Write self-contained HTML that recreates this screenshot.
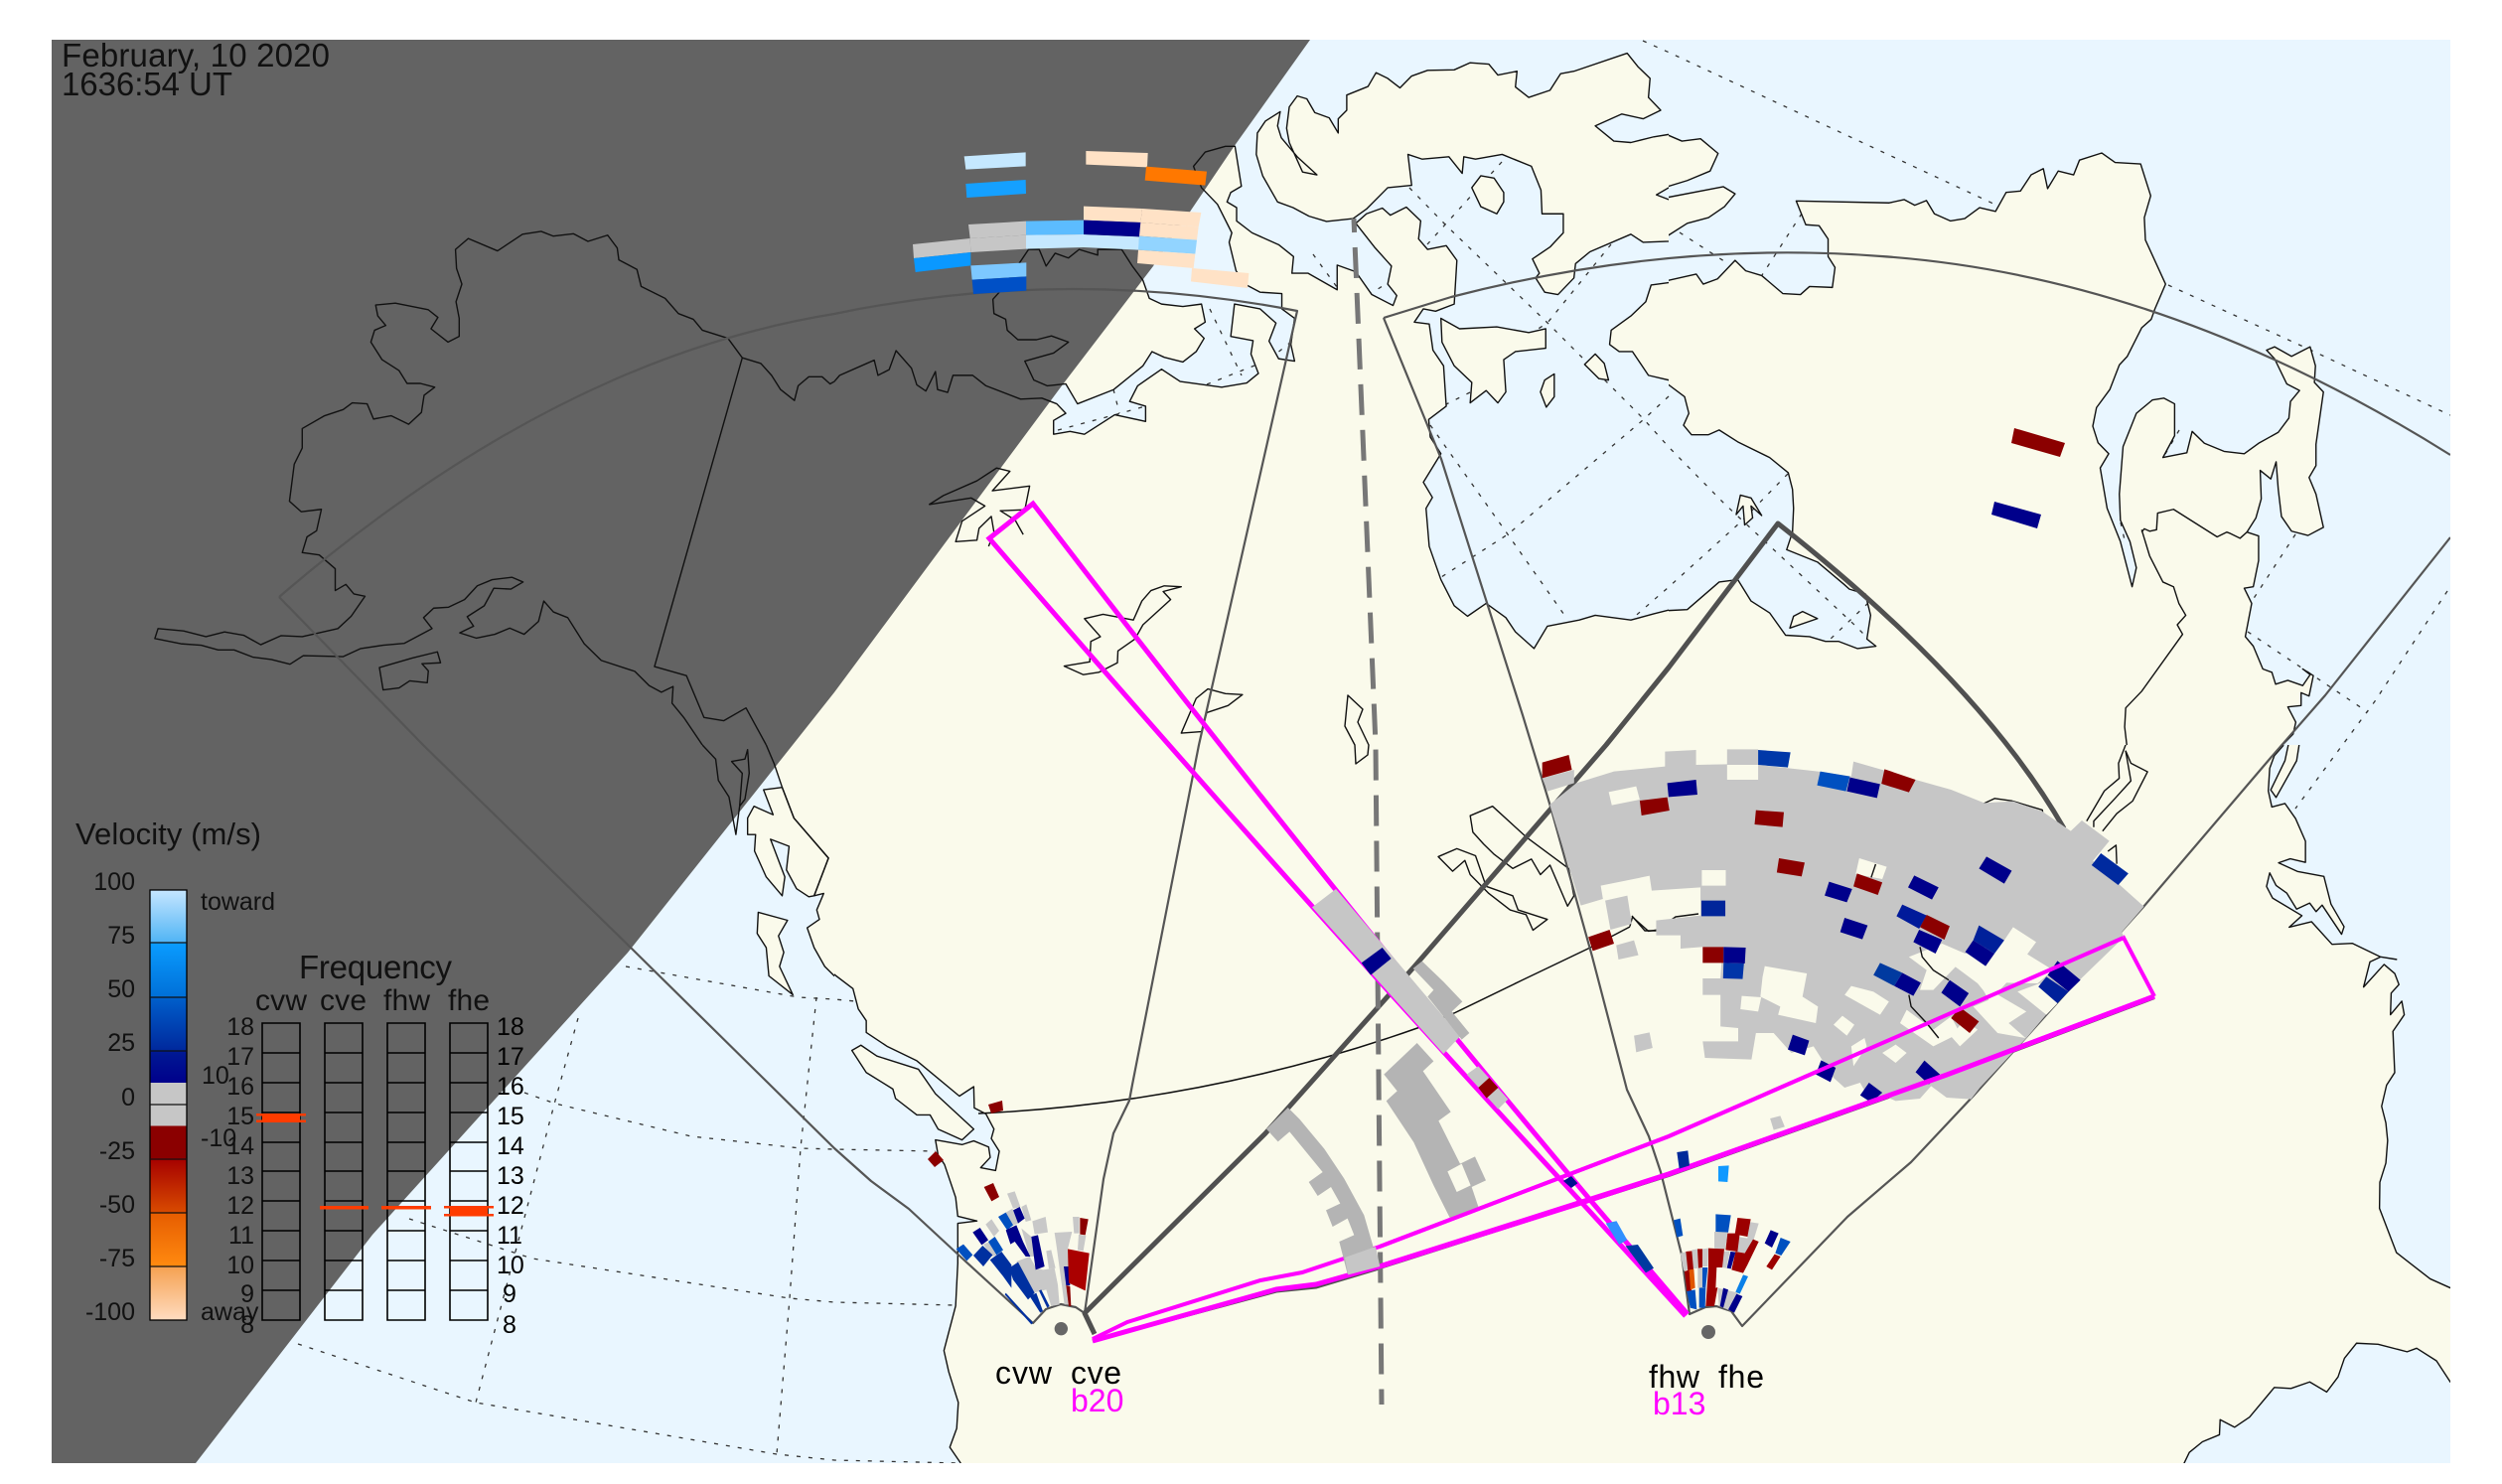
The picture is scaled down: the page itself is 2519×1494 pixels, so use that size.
<!DOCTYPE html>
<html><head><meta charset="utf-8"><title>SuperDARN map</title>
<style>
html,body{margin:0;padding:0;background:#fff}
svg{display:block}
path{vector-effect:non-scaling-stroke}
text{font-family:"Liberation Sans",sans-serif;fill:#000}
.k{fill:#111}
.d polyline{fill:none;stroke:#333;stroke-width:1.3;stroke-dasharray:4 8}
.s polyline,.s path{fill:none;stroke:#555;stroke-width:2.2;stroke-linejoin:round}
</style></head><body>
<svg xmlns="http://www.w3.org/2000/svg" width="2519" height="1494" viewBox="0 0 2519 1494">
<defs>
<g id="c">
<svg x="0" y="0" width="840" height="750" viewBox="0 0 1568 1568" preserveAspectRatio="none">
<path d="M1620 797 1568 803 1560 808 1545 793 1520 793 1500 812 1493 843 1467 820 1450 790 1430 765 1395 753 1368 712 1320 695 1303 672 1275 660 1250 628 1205 603 1197 567 1163 547 1160 522 1142 495 1105 508 1078 492 1040 497 1017 487 982 493 935 528 880 502 856 525 858 565 868 598 857 635 863 670 863 708 842 720 810 692 823 668 805 652 743 638 706 642 710 665 725 685 704 695 697 720 718 757 750 780 765 807 790 807 817 815 797 832 792 868 768 893 735 875 702 882 690 850 662 848 645 862 610 875 568 902 568 943 553 977 544 1055 566 1077 604 1072 595 1117 577 1130 568 1163 600 1168 630 1197 630 1243 650 1230 665 1250 686 1255 660 1297 635 1323 568 1340 528 1338 490 1357 458 1337 422 1330 387 1340 345 1328 297 1323 291 1344 340 1355 378 1358 410 1368 440 1368 475 1383 510 1388 545 1398 570 1380 645 1382 678 1365 720 1358 760 1354 812 1323 796 1300 815 1280 843 1278 873 1262 897 1233 925 1220 962 1215 983 1225 960 1240 928 1238 910 1275 878 1298 890 1318 864 1332 895 1343 930 1335 958 1322 985 1335 1012 1308 1022 1265 1040 1288 1067 1300 1098 1355 1130 1390 1193 1413 1220 1443 1243 1457 1265 1445 1263 1480 1285 1510 1320 1568 1330 1620 1620 1620Z"/>
<path d="M713 1405 775 1385 822 1372 828 1395 793 1397 805 1412 803 1437 770 1433 750 1448 720 1452Z"/>
<path fill="none" d="M1395 753 1230 1403 1290 1422 1323 1510 1360 1517 1402 1490 1440 1568"/>
</svg>
<svg x="840" y="0" width="840" height="750" viewBox="0 0 1568 1568" preserveAspectRatio="none">
<path d="M-50 797 0 803 10 790 75 758 82 790 103 778 116 738 145 775 155 810 172 823 190 782 194 820 213 826 223 790 260 790 285 812 350 840 390 838 418 850 435 870 412 885 412 914 443 908 470 914 527 873 585 887 585 855 555 845 570 812 615 777 650 803 728 815 775 806 797 786 783 745 787 717 745 708 752 640 800 650 830 680 817 718 835 755 865 760 858 725 865 670 841 650 841 618 800 615 775 600 755 570 742 510 747 490 720 430 690 395 675 350 697 320 735 308 753 308 765 392 745 405 738 425 756 437 756 465 785 490 835 515 863 540 860 575 890 575 945 610 945 558 980 572 1010 620 1050 643 1057 622 1040 598 1047 560 1015 520 980 470 1000 450 1030 438 1045 453 1075 436 1102 465 1098 503 1115 525 1150 517 1170 548 1165 640 1130 655 1107 650 1090 678 1118 682 1125 737 1145 770 1150 855 1117 883 1120 920 1140 955 1107 1015 1124 1047 1112 1070 1118 1150 1140 1220 1165 1275 1190 1297 1225 1270 1262 1300 1280 1330 1315 1365 1340 1318 1400 1305 1430 1295 1497 1305 1540 1292 1568 1284 1620 1280 1620 1620 -50 1620Z"/>
<path d="M540 525 560 560 580 590 592 628 615 640 655 645 690 640 697 678 677 692 695 712 680 740 655 762 620 752 597 740 580 770 525 820 457 850 435 808 400 812 375 800 358 760 412 743 440 720 408 707 380 715 345 715 325 695 322 672 300 660 298 630 310 615 350 550 365 525 385 525 398 560 415 533 440 543 460 525 495 537 495 525Z"/>
<path d="M870 202 888 208 903 237 930 248 947 280 947 250 963 232 963 200 1003 182 1018 153 1040 165 1063 185 1085 160 1115 148 1165 147 1195 132 1230 135 1247 158 1283 150 1280 183 1305 205 1345 190 1365 155 1390 150 1490 112 1510 140 1533 165 1530 205 1553 232 1520 250 1480 240 1430 265 1465 297 1497 300 1540 288 1568 283 1620 270 1620 380 1568 395 1545 410 1568 420 1620 415 1620 500 1568 508 1520 510 1497 493 1420 530 1393 555 1390 585 1360 620 1335 615 1318 585 1325 575 1312 545 1345 520 1370 490 1370 450 1330 450 1328 400 1310 350 1255 325 1205 335 1183 330 1180 365 1155 330 1105 335 1078 325 1085 390 1040 395 1000 440 975 460 925 466 892 455 862 437 833 425 805 370 793 325 795 280 810 255 838 235 833 265 840 290 870 330 907 368 880 362 855 300 850 270 855 225Z"/>
<path d="M1620 590 1568 595 1535 600 1525 635 1497 665 1460 695 1457 725 1475 740 1500 740 1530 790 1568 800 1620 805Z"/>
<path d="M1140 670 1175 692 1245 688 1305 700 1337 692 1337 733 1280 740 1258 757 1262 825 1247 848 1225 822 1195 848 1198 805 1165 770 1142 720Z"/>
<path d="M1215 370 1240 375 1258 405 1258 425 1245 450 1215 435 1198 395Z"/>
<path d="M1430 745 1447 765 1455 800 1437 797 1410 767Z"/>
<path d="M1353 787 1353 835 1338 857 1327 825 1335 800Z"/>
<path fill="none" d="M178 1062 205 1043 268 1012 305 985 330 992 297 1033 367 1023 358 1073 312 1075 340 1095 355 1125"/>
<path fill="none" d="M178 1062 257 1048 283 1065 240 1097 228 1140 268 1137 272 1112 295 1087 300 1120 290 1150"/>
<path fill="none" d="M652 1235 620 1233 595 1243 578 1265 562 1305 505 1293 470 1302 500 1340 482 1350 480 1393 432 1402 468 1420 497 1415 532 1395 533 1370 565 1345 580 1315 632 1262 618 1245Z"/>
<path fill="none" d="M702 1450 735 1460 767 1462 740 1485 700 1500 690 1540 652 1543 680 1470Z"/>
</svg>
<svg x="1680" y="0" width="839" height="750" viewBox="0 0 1568 1568" preserveAspectRatio="none">
<path d="M-50 270 0 285 25 297 60 292 93 323 78 360 35 380 0 392 -50 395Z"/>
<path d="M-50 420 0 415 103 393 125 408 105 435 75 458 35 470 0 495 -50 505Z"/>
<path d="M-50 590 0 590 52 577 65 598 92 587 125 548 145 570 175 580 215 618 248 620 265 603 308 605 313 563 300 540 300 503 283 475 258 473 240 423 415 427 443 420 463 432 485 422 500 450 530 465 557 460 585 437 615 445 635 405 662 402 682 368 705 355 713 397 733 360 762 368 773 337 815 322 840 342 888 345 907 412 895 458 897 505 935 598 915 650 908 672 890 690 863 750 848 768 830 820 805 858 798 897 808 932 828 955 812 985 825 1070 850 1140 872 1235 880 1195 868 1140 850 1095 848 1040 855 940 880 870 910 842 932 838 952 850 952 917 930 963 975 953 985 908 1008 933 1045 950 1083 955 1110 933 1147 910 1167 880 1170 845 1187 822 1163 808 1140 755 1125 737 1140 730 1172 750 1207 730 1217 770 1215 805 1232 825 1218 935 1218 980 1205 1005 1218 1040 1232 1110 1203 1127 1172 1118 1153 1087 1147 1030 1143 972 1133 1008 1113 990 1115 1050 1105 1090 1088 1120 1110 1128 1110 1180 1100 1235 1083 1238 1097 1270 1085 1340 1100 1360 1118 1408 1135 1415 1142 1440 1165 1432 1193 1443 1207 1420 1193 1408 1213 1422 1205 1465 1190 1458 1190 1485 1165 1488 1180 1520 1175 1545 1155 1568 1150 1620 -50 1620 -50 1290 0 1285 35 1283 95 1225 130 1220 155 1265 190 1290 220 1337 265 1340 295 1350 320 1350 355 1365 390 1360 373 1345 380 1295 370 1250 340 1240 330 1230 280 1183 222 1157 233 1120 235 1070 233 1030 225 995 190 963 130 930 95 905 75 915 43 915 28 895 38 870 30 835 0 810 -50 805Z"/>
<path d="M228 1322 235 1297 252 1287 280 1302Z"/>
<path d="M127 1083 135 1042 155 1048 175 1085 155 1065 158 1090 143 1105 140 1065Z"/>
<path fill="none" d="M890 1120 895 1113 905 1118 918 1115 920 1080 950 1072 1032 1130 1050 1120 1055 1122 1075 1133 1088 1120"/>
<path fill="none" d="M890 1115 905 1170 930 1225 950 1235 960 1270 973 1295 957 1315 967 1335 890 1455 860 1490 858 1530 862 1568"/>
</svg>
<svg x="0" y="750" width="840" height="744" viewBox="0 0 1568 1568" preserveAspectRatio="none">
<path d="M1440 -50 1440 0 1455 40 1470 90 1492 155 1557 240 1530 320 1548 315 1535 350 1540 370 1517 388 1530 430 1550 470 1568 490 1620 495 1620 -50Z"/>
<path d="M1435 95 1453 148 1417 130 1405 155 1405 190 1420 190 1418 225 1440 280 1470 320 1475 280 1448 200 1483 215 1478 265 1497 305 1520 322 1530 320 1557 240 1492 155 1470 90Z"/>
<path d="M1425 355 1480 372 1463 405 1473 440 1465 470 1490 530 1445 490 1440 430 1423 400Z"/>
<path fill="none" d="M1320 0 1345 30 1350 75 1370 110 1383 190 1390 130 1400 115 1408 60 1405 10 1400 30 1375 35 1395 60 1390 130"/>
</svg>
<svg x="840" y="750" width="840" height="744" viewBox="0 0 1568 1568" preserveAspectRatio="none">
<path d="M-50 450 0 487 35 517 45 560 60 585 60 610 100 640 155 670 235 745 262 725 263 770 285 783 300 815 295 835 310 862 303 903 275 897 293 875 290 853 262 840 240 848 190 838 195 870 207 890 228 960 232 1000 268 1010 232 1015 232 1100 228 1190 206 1285 215 1330 233 1395 230 1450 217 1490 237 1523 250 1620 1620 1620 1620 -50 -50 -50Z"/>
<path d="M33 648 50 637 80 660 158 688 190 740 262 815 240 838 195 815 180 785 155 785 115 750 110 730 60 695Z"/>
<path fill="none" d="M1195 150 1237 130 1300 195 1380 262 1390 320 1378 342 1345 255 1327 275 1310 242 1275 262 1240 232 1220 210 1200 185Z"/>
<path fill="none" d="M1135 237 1170 220 1205 235 1225 300 1275 320 1285 350 1340 370 1313 393 1300 360 1270 350 1230 315 1195 275 1185 245 1162 268Z"/>
<path fill="none" d="M1495 385 1500 365 1530 395 1560 390"/>
</svg>
<svg x="1680" y="750" width="839" height="744" viewBox="-785.4 98.7 2353.4 1469.2" preserveAspectRatio="none">
<path d="M-900 50 950 50 950 100 925 120 912 145 908 190 918 222 955 215 985 245 1013 290 1013 332 970 325 937 333 990 350 1065 360 1085 415 1122 460 1115 475 1060 417 1043 430 1025 413 988 425 960 393 930 378 912 353 903 380 920 403 1003 438 967 461 1030 450 1088 495 1145 493 1225 520 1270 525 1225 520 1195 530 1177 580 1235 535 1265 553 1277 575 1255 592 1253 635 1285 608 1292 635 1260 668 1265 750 1242 775 1228 817 1240 850 1245 885 1240 930 1223 968 1222 1020 1270 1108 1365 1160 1422 1178 1600 1200 1600 1370 1422 1365 1383 1323 1327 1298 1300 1305 1218 1290 1157 1288 1123 1318 1105 1355 1073 1385 1025 1365 972 1378 925 1376 855 1435 813 1455 772 1440 770 1470 722 1484 685 1505 670 1527 660 1600 -900 1600Z"/>
<path d="M997 90 965 97 955 130 915 188 930 203 988 130Z"/>
<path fill="none" d="M540 0 505 25 500 60 507 95 485 135 487 165 445 190 395 250"/>
<path fill="none" d="M505 110 520 170 475 205 415 250 415 262"/>
<path fill="none" d="M505 110 520 135 567 152 525 210 480 235 440 270"/>
<path fill="none" d="M455 310 478 298 480 335"/>
<path fill="none" d="M105 215 135 205 185 210 270 228 272 240"/>
</svg>
<path fill="none" d="M1357 700 1372 714 1367 727 1378 750 1377 760 1365 769 1364 750 1354 731Z"/>
<path fill="none" d="M1643 922 1656 937 1667 937 1687 923 1710 920"/>
</g>
</defs>

<rect width="2519" height="1494" fill="#fff"/>
<rect x="52" y="40" width="2415" height="1433" fill="#e9f6ff"/>

<!-- dotted grid (under land) -->
<g class="d">
<polyline points="630,973 804,1004 840,1006 861,1008"/>
<polyline points="528,1100 559,1111 696,1144 806,1156 840,1157 942,1159"/>
<polyline points="412,1227 536,1267 795,1307 840,1311 960,1314"/>
<polyline points="300,1353 479,1412 782,1464 840,1470 966,1473"/>
<polyline points="582,1025 559,1108 479,1412"/>
<polyline points="822,1004 806,1156 795,1307 782,1464"/>
<polyline points="1419,189 1456,227 1558,325 1654,421 1680,450 1736,507 1867,629 1881,643"/>
<polyline points="1440,428 1518,538 1577,622"/>
<polyline points="1512,163 1437,246"/>
<polyline points="1622,246 1558,325 1547,332"/>
<polyline points="1800,477 1752,526 1680,591 1642,624"/>
<polyline points="1680,399 1654,423 1518,538 1451,581"/>
<polyline points="1322,256 1346,289"/>
<polyline points="1218,311 1250,378"/>
<polyline points="1215,387 1263,368"/>
<polyline points="1300,344 1285,356"/>
<polyline points="1401,282 1378,297"/>
<polyline points="1480,395 1456,407"/>
<polyline points="1065,433 1121,418 1153,409"/>
<polyline points="1121,392 1127,416"/>
<polyline points="1881,607 1840,646"/>
<polyline points="1654,41 1683,54 2009,206"/>
<polyline points="2183,287 2319,349 2467,418"/>
<polyline points="1814,215 1774,277"/>
<polyline points="1691,234 1739,265"/>
<polyline points="2311,538 2266,607"/>
<polyline points="2263,636 2384,717"/>
<polyline points="2464,595 2391,706 2311,814"/>
<polyline points="2194,433 2180,457"/>
<polyline points="2135,526 2140,548"/>
</g>

<!-- land -->
<use href="#c" fill="#fafaeb"/>

<!-- night -->
<path fill="#636363" d="M52 40 1319 40 1242 148 1161 268 1070 387 840 697 798 750 632 959 375 1243 197 1473 52 1473Z"/>

<!-- coast strokes -->
<use href="#c" fill="none" stroke="#111" stroke-width="1.4" stroke-linejoin="round"/>

<!-- thin black arc -->
<path d="M985 1121 Q1215 1110 1427 1035 L1464 1020 1532 987 1601 954 1641 933" fill="none" stroke="#111" stroke-width="1.5"/>

<!-- FOV outlines -->
<g class="s">
<path d="M281 601 Q560 361 840 316 Q1073 267.5 1306 313 L1207 750 1140 1092 1137 1108 1121 1141 1111 1187 1092 1322 1083 1316 1068 1313 1053 1318 1040 1332 969 1267 915 1217 877 1189 840 1156 635 954 426 750 281 601"/>
<path d="M1393 320 1461 299 Q1682.5 241.5 1894 258 Q2180 278 2467 458"/>
<polyline points="1393,320 1451,462 1533,720 1561,812 1603,963 1638,1097 1660,1144 1672,1180 1693,1263 1701,1323 1717,1316 1728,1315 1743,1320 1754,1335 1860,1225 1924,1170 1987,1103 2158,913 2286,763 2341,700 2467,541"/>
<polyline points="1392,1276 1680,1184 1960,1084 2169,1005" stroke-width="3"/>
</g>
<path d="M1102 1343 1092 1322 1274 1141 1424 973 1617 750 1680 672 1790 527 Q1994 687.5 2078 834" fill="none" stroke="#505050" stroke-width="5" stroke-linejoin="round"/>
<polyline points="1100,1350 1285,1300 1325,1296 1392,1276" fill="none" stroke="#505050" stroke-width="3"/>

<!-- dashed -->
<polyline points="1363,220 1385,750 1391,1414" fill="none" stroke="#777" stroke-width="5" stroke-dasharray="31 15" stroke-dashoffset="17"/>

<!-- beams -->
<g fill="none" stroke="#ff00ff" stroke-linejoin="miter">
<path stroke-width="5" d="M1697 1325 L1590 1208 Q1293 887 996 542 L1040 507 Q1320 873 1601 1208 L1699 1323"/>
<path stroke-width="4" d="M1100 1348 1135 1331 1269 1289 1311 1281 1389 1255 1680 1144 2138 944 2169 1003"/>
<path stroke-width="5" d="M2169 1003 1960 1082 1680 1182 1595 1210 1392 1274 1325 1293 1285 1298 1100 1350"/>
</g>

<!-- data north (night) -->
<svg x="900" y="130" width="360" height="180" viewBox="0 0 1080 540">
<polygon fill="#c5e8ff" points="212,82 398,70 398,112 217,122"/>
<polygon fill="#15a0ff" points="217,165 398,153 399,195 220,207"/>
<polygon fill="#ffe2c6" points="580,66 767,72 765,115 580,107"/>
<polygon fill="#ff7800" points="762,113 945,128 940,170 758,155"/>
<polygon fill="#c6c6c6" points="225,288 399,278 399,320 230,330"/>
<polygon fill="#c6c6c6" points="57,348 230,330 232,372 60,390"/>
<polygon fill="#c6c6c6" points="230,330 399,320 399,362 232,372"/>
<polygon fill="#5cbcff" points="399,278 573,275 573,318 399,320"/>
<polygon fill="#c5e8ff" points="399,320 573,318 741,325 740,365 573,357 399,362"/>
<polygon fill="#ffe2c6" points="573,233 750,240 745,282 573,275"/>
<polygon fill="#ffe2c6" points="750,240 928,252 920,295 745,282"/>
<polygon fill="#00008b" points="573,275 748,282 745,325 573,318"/>
<polygon fill="#ffe2c6" points="745,282 920,295 915,335 741,323"/>
<polygon fill="#92d4ff" points="741,323 915,335 910,377 738,365"/>
<polygon fill="#ffe2c6" points="738,365 910,377 905,420 735,405"/>
<polygon fill="#ffe2c6" points="900,420 1072,435 1068,480 897,460"/>
<polygon fill="#0a98ff" points="60,390 232,372 232,412 65,432"/>
<polygon fill="#7dc8ff" points="232,412 400,403 400,445 236,455"/>
<polygon fill="#0050c6" points="236,455 400,445 400,488 240,498"/>
</svg>

<!-- isolated cells -->
<polygon fill="#8b0000" points="2028,431 2079,446 2074,460 2025,446"/>
<polygon fill="#00008b" points="2008,505 2055,518 2051,532 2005,518"/>
<polygon fill="#8b0000" points="995,1112 1009,1108 1010,1118 998,1121"/>
<polygon fill="#8b0000" points="934,1167 942,1159 950,1168 941,1175"/>

<!-- middle gray -->
<svg x="1240" y="860" width="300" height="460" viewBox="0 0 900 1380">
<polygon fill="#c6c6c6" points="243,160 315,105 690,550 640,603"/>
<polygon fill="#00008b" points="392,328 455,282 482,315 420,365"/>
<polygon fill="#c6c6c6" points="710,665 745,640 835,740 805,770"/>
<polygon fill="#8b0000" points="745,705 778,675 805,705 770,737"/>
<polygon fill="#b4b4b4" points="548,345 575,323 640,385 697,445 665,475 718,540 695,560 640,490 592,430 610,410"/>
<polygon fill="#b4b4b4" points="460,665 560,570 610,625 578,655 662,778 625,805 690,935 735,913 768,985 725,1005 747,1070 660,1100 610,1000 550,870 467,745 500,715"/>
<polygon fill="#fafaeb" points="652,958 695,935 722,1000 680,1020"/>
<polygon fill="#b4b4b4" points="105,830 170,765 205,800 280,890 340,980 400,1090 445,1245 350,1268 325,1170 370,1150 350,1100 305,1125 285,1075 328,1055 300,1005 260,1032 233,990 275,960 175,838 140,868"/>
<polygon fill="#c6c6c6" points="342,1218 435,1185 448,1245 352,1270"/>
</svg>

<!-- b13 beam near site -->
<svg x="840" y="750" width="840" height="744" viewBox="0 0 1568 1568" preserveAspectRatio="none">
<polygon fill="#3090ff" points="1450,1015 1470,1010 1490,1050 1475,1060"/>
<polygon fill="#003aa0" points="1487,1063 1510,1060 1540,1110 1525,1120"/>
<polygon fill="#00108f" points="1370,925 1385,915 1397,930 1385,940"/>
</svg>

<!-- main fhw/fhe -->
<svg x="1500" y="720" width="700" height="460" viewBox="0 0 1568 1380" preserveAspectRatio="none">
<polygon fill="#c6c6c6" points="135,270 195,205 280,170 395,155 395,110 465,105 465,150 535,148 535,103 605,103 605,150 740,170 815,185 820,140 885,165 960,195 1040,225 1115,265 1180,260 1245,290 1310,350 1335,318 1397,380 1360,440 1475,578 1425,655 1430,670 1330,800 1270,880 1210,975 1105,1125 1085,1160 1030,1155 995,1120 970,1158 915,1165 890,1150 860,1170 835,1110 800,1125 775,1095 730,1000 680,1020 640,960 600,960 590,1040 485,1035 480,985 560,985 560,945 520,940 520,845 480,845 480,795 520,795 525,700 478,700 430,705 430,665 375,665 375,620 475,605 475,520 365,530 360,485 250,515 255,555 205,575"/>
<polygon fill="#c6c6c6" points="260,560 310,545 320,630 272,648"/>
<polygon fill="#c6c6c6" points="285,695 325,680 335,725 290,738"/>
<polygon fill="#c6c6c6" points="325,968 360,958 367,1005 330,1018"/>
<polygon fill="#c6c6c6" points="632,1218 655,1210 665,1243 640,1253"/>
<polygon fill="#c6c6c6" points="118,190 190,165 190,205 130,230"/>
<g fill="#fafaeb">
<polygon points="268,232 330,215 338,255 275,272"/>
<polygon points="535,150 605,150 605,195 535,195"/>
<polygon points="478,468 532,468 532,515 478,515"/>
<polygon points="833,432 895,458 885,495 825,480"/>
<polygon points="1020,690 1072,720 1160,680 1180,640 1232,685 1212,722 1270,770 1235,810 1165,808 1130,860 1100,810 1050,760 1000,830 970,830 985,770 945,730"/>
<polygon points="620,758 715,780 705,850 740,880 735,930 650,905 655,880 610,850 615,790"/>
<polygon points="568,848 612,852 605,895 565,888"/>
<polygon points="800,845 815,818 865,835 900,865 880,905"/>
<polygon points="775,935 795,908 822,935 805,968"/>
<polygon points="815,1000 845,975 850,1000 820,1060"/>
<polygon points="885,1020 915,995 940,1020 915,1050"/>
<polygon points="925,930 940,890 1000,950 1040,910 1060,960 1000,1000"/>
<polygon points="1100,800 1165,805 1140,840 1210,895 1170,930 1208,975 1145,960 1090,880 1125,860"/>
<polygon points="1240,810 1280,870 1255,905 1190,835"/>
<polygon points="1040,970 1060,1000 1100,950 1070,920"/>
</g>
<path fill="none" stroke="#111" stroke-width="1.4" d="M970 700 975 730 1000 770 1035 800"/>
<path fill="none" stroke="#111" stroke-width="1.4" d="M945 845 950 880 985 930 1012 975"/>
<path fill="none" stroke="#111" stroke-width="1.4" d="M860 490 870 450"/>
<polygon fill="#8b0000" points="118,143 178,120 185,165 118,190"/>
<polygon fill="#8b0000" points="338,258 400,248 405,288 342,303"/>
<polygon fill="#00008b" points="400,205 465,195 468,240 403,247"/>
<polygon fill="#0038a8" points="605,105 678,112 672,158 605,150"/>
<polygon fill="#0050c0" points="745,170 812,185 803,230 738,212"/>
<polygon fill="#00008b" points="812,188 880,208 873,250 805,230"/>
<polygon fill="#8b0000" points="890,163 960,195 945,233 883,207"/>
<polygon fill="#8b0000" points="600,287 663,293 660,338 597,330"/>
<polygon fill="#8b0000" points="652,432 710,445 703,487 647,475"/>
<polygon fill="#8b0000" points="828,478 885,505 875,543 820,517"/>
<polygon fill="#00008b" points="765,503 817,525 805,565 755,545"/>
<polygon fill="#00008b" points="957,484 1012,520 997,557 943,520"/>
<polygon fill="#00008b" points="1120,427 1177,470 1160,509 1103,463"/>
<polygon fill="#002a9f" points="1378,417 1440,478 1417,513 1357,453"/>
<polygon fill="#001a9a" points="930,572 985,605 968,645 917,607"/>
<polygon fill="#8b0000" points="985,603 1037,637 1025,678 970,640"/>
<polygon fill="#00008b" points="968,648 1020,678 1005,720 955,685"/>
<polygon fill="#00008b" points="800,612 852,635 840,677 790,655"/>
<polygon fill="#00259a" points="477,560 531,560 531,607 477,607"/>
<polygon fill="#8b0000" points="480,700 527,700 527,748 480,748"/>
<polygon fill="#00008b" points="527,700 577,702 575,750 527,748"/>
<polygon fill="#0035a8" points="527,748 573,750 570,797 526,795"/>
<polygon fill="#003aa0" points="880,748 930,778 912,818 865,785"/>
<polygon fill="#00008b" points="930,778 972,808 955,848 912,818"/>
<polygon fill="#00008b" points="1037,800 1080,840 1060,880 1018,838"/>
<polygon fill="#00209a" points="1103,635 1160,680 1138,720 1090,680"/>
<polygon fill="#00008b" points="1090,680 1138,720 1118,758 1072,715"/>
<polygon fill="#00008b" points="1280,742 1332,800 1305,835 1258,785"/>
<polygon fill="#00209a" points="1255,790 1305,835 1280,870 1237,820"/>
<polygon fill="#8b0000" points="1060,882 1103,925 1082,960 1040,915"/>
<polygon fill="#00008b" points="683,965 720,983 710,1027 672,1010"/>
<polygon fill="#00008b" points="747,1042 780,1065 768,1108 735,1085"/>
<polygon fill="#00008b" points="980,1043 1015,1085 990,1115 960,1078"/>
<polygon fill="#00008b" points="855,1110 885,1140 860,1170 835,1148"/>
<polygon fill="#8b0000" points="222,670 270,648 280,690 232,712"/>
</svg>
<!-- beam lines passing over main data -->
<polyline points="1389,1255 1680,1144 2138,944" fill="none" stroke="#ff00ff" stroke-width="4"/>
<polyline points="1392,1274 1680,1182 1960,1082 2169,1003" fill="none" stroke="#ff00ff" stroke-width="5"/>

<!-- CV site -->
<svg x="940" y="1170" width="220" height="200" viewBox="0 0 660 600">
<g fill="#c8c8c8">
<polygon points="222,95 245,88 262,135 240,140"/>
<polygon points="265,135 280,127 295,175 278,180"/>
<polygon points="157,188 175,172 198,207 182,225"/>
<polygon points="218,152 238,140 255,185 238,192"/>
<polygon points="298,178 338,165 345,212 305,218"/>
<polygon points="250,300 290,285 310,320 330,325 365,320 375,370 380,430 355,435 340,385 300,395"/>
<polygon points="365,213 418,210 405,262 410,340 410,430 395,430 372,260"/>
<polygon points="340,268 355,265 368,320 348,322"/>
<polygon points="420,165 440,165 440,215 424,215"/>
<polygon points="438,218 460,222 452,268 435,265"/>
<polygon points="150,248 170,240 192,280 175,285"/>
<polygon points="265,200 295,225 310,285 290,285"/>
</g>
<polygon fill="#0050c0" points="68,262 90,248 118,280 100,298"/>
<polygon fill="#0050c0" points="195,165 218,152 240,190 222,205"/>
<polygon fill="#0050c0" points="165,240 185,225 210,265 190,280"/>
<g fill="#00008b">
<polygon points="118,212 140,198 165,235 145,250"/>
<polygon points="240,145 260,135 275,170 255,185"/>
<polygon points="218,205 250,190 270,240 292,285 278,285 245,240 232,248"/>
<polygon points="295,225 315,220 335,315 308,325"/>
<polygon points="393,315 410,315 412,372 400,372"/>
</g>
<g fill="#0030a0">
<polygon points="120,282 148,252 178,280 150,315"/>
<polygon points="170,295 205,270 235,310 235,380 210,345"/>
<polygon points="228,320 255,302 305,395 285,415 240,355"/>
<polygon points="218,395 300,485 295,490 215,400"/>
<polygon points="290,405 310,395 330,450 322,455"/>
<polygon points="325,385 350,435 343,440 318,388"/>
</g>
<polygon fill="#aa0000" points="405,262 470,275 458,388 408,365"/>
<polygon fill="#8b0000" points="442,168 467,172 458,220 442,218"/>
<polygon fill="#8b0000" points="152,75 180,63 198,105 175,118"/>
<polygon fill="#8b0000" points="400,372 412,375 415,435 408,435"/>
<circle cx="385" cy="503" r="20" fill="#666"/>
</svg>

<!-- FH site -->
<svg x="1640" y="1150" width="220" height="220" viewBox="0 0 660 660">
<polygon fill="#002a9a" points="145,30 178,25 183,70 152,80"/>
<polygon fill="#1199ff" points="270,72 302,70 298,120 270,118"/>
<g fill="#c8c8c8">
<polygon points="155,335 175,330 180,385 165,388"/>
<polygon points="258,270 300,270 290,325 258,320"/>
<polygon points="190,325 208,322 212,380 192,382"/>
<polygon points="222,322 240,320 238,375 222,375"/>
<polygon points="328,285 358,290 360,240 392,245 375,300 350,335 325,330"/>
<polygon points="280,330 305,328 295,380 280,378"/>
<polygon points="268,440 330,455 310,510 272,495"/>
<polygon points="208,380 222,380 222,440 208,440"/>
</g>
<g fill="#9c0000">
<polygon points="172,330 190,328 195,385 178,388"/>
<polygon points="207,322 222,322 222,378 210,380"/>
<polygon points="240,320 288,322 282,378 265,378 262,440 268,438 258,495 232,495 240,378"/>
<polygon points="298,275 335,275 328,330 292,325"/>
<polygon points="328,228 368,232 358,285 320,278"/>
<polygon points="375,293 392,300 358,370 345,395 310,385 322,330 350,335"/>
<polygon points="168,390 182,385 190,450 175,450"/>
<polygon points="440,338 458,345 432,385 415,375"/>
</g>
<polygon fill="#e05500" points="182,385 196,383 200,440 186,445"/>
<g fill="#0050c0">
<polygon points="262,217 308,220 300,272 262,270"/>
<polygon points="135,235 155,230 163,282 145,287"/>
<polygon points="458,288 488,300 460,342 442,335"/>
<polygon points="212,440 232,438 230,500 212,500"/>
<polygon points="222,378 238,378 232,438 222,438"/>
<polygon points="175,450 200,445 205,505 185,500"/>
</g>
<polygon fill="#0a80e8" points="345,400 360,405 335,458 322,452"/>
<g fill="#00008b">
<polygon points="428,265 452,275 432,318 410,305"/>
<polygon points="307,330 322,332 308,382 296,380"/>
<polygon points="285,440 300,445 285,500 275,495"/>
<polygon points="325,458 343,465 318,515 300,505"/>
</g>
<circle cx="240" cy="573" r="21" fill="#666"/>
</svg>

<!-- white margin -->
<path fill="#fff" fill-rule="evenodd" d="M0 0H2519V1494H0Z M52 40V1473H2467V40Z"/>

<!-- title -->
<text x="62" y="67" font-size="33" class="k" textLength="270">February, 10 2020</text>
<text x="62" y="96" font-size="33" class="k" textLength="172">1636:54 UT</text>

<!-- colour bar -->
<defs>
<linearGradient id="g1" x1="0" y1="0" x2="0" y2="1">
<stop offset="0" stop-color="#c5e6ff"/><stop offset=".123" stop-color="#50b4f5"/>
<stop offset=".123" stop-color="#0a9cff"/><stop offset=".248" stop-color="#0070d8"/>
<stop offset=".248" stop-color="#0060cc"/><stop offset=".374" stop-color="#00289c"/>
<stop offset=".374" stop-color="#001a94"/><stop offset=".448" stop-color="#00008b"/>
<stop offset=".448" stop-color="#c6c6c6"/><stop offset=".548" stop-color="#c6c6c6"/>
<stop offset=".548" stop-color="#8b0000"/><stop offset=".624" stop-color="#8b0000"/>
<stop offset=".624" stop-color="#a50000"/><stop offset=".749" stop-color="#d84a00"/>
<stop offset=".749" stop-color="#e65c00"/><stop offset=".874" stop-color="#ff8a10"/>
<stop offset=".874" stop-color="#f5a050"/><stop offset="1" stop-color="#ffdcc0"/>
</linearGradient>
</defs>
<rect x="151" y="896" width="37" height="433" fill="url(#g1)" stroke="#000" stroke-width="1.3"/>
<g stroke="#111" stroke-width="1.2">
<line x1="151" x2="188" y1="949" y2="949"/><line x1="151" x2="188" y1="1004" y2="1004"/>
<line x1="151" x2="188" y1="1058" y2="1058"/><line x1="151" x2="188" y1="1112" y2="1112"/>
<line x1="151" x2="188" y1="1167" y2="1167"/><line x1="151" x2="188" y1="1221" y2="1221"/>
<line x1="151" x2="188" y1="1275" y2="1275"/>
</g>
<g font-size="25" class="k" text-anchor="end">
<text x="136" y="896" class="k">100</text><text x="136" y="950" class="k">75</text>
<text x="136" y="1004" class="k">50</text><text x="136" y="1058" class="k">25</text>
<text x="136" y="1113" class="k">0</text><text x="136" y="1167" class="k">-25</text>
<text x="136" y="1221" class="k">-50</text><text x="136" y="1275" class="k">-75</text>
<text x="136" y="1329" class="k">-100</text>
</g>
<text x="76" y="850" font-size="31" class="k" textLength="187">Velocity (m/s)</text>
<text x="202" y="916" font-size="25" class="k">toward</text>
<text x="202" y="1329" font-size="25" class="k">away</text>
<text x="203" y="1091" font-size="25" class="k">10</text>
<text x="202" y="1154" font-size="25" class="k">-10</text>

<!-- frequency -->
<text x="301" y="985" font-size="33" class="k" textLength="154">Frequency</text>
<text x="257" y="1017" font-size="30" class="k" textLength="52">cvw</text>
<text x="322" y="1017" font-size="30" class="k" textLength="47">cve</text>
<text x="386" y="1017" font-size="30" class="k" textLength="47">fhw</text>
<text x="451" y="1017" font-size="30" class="k" textLength="42">fhe</text>
<g fill="none" stroke="#000" stroke-width="1.6">
<path d="M264 1030H302V1329H264ZM264 1060H302M264 1090H302M264 1120H302M264 1150H302M264 1179H302M264 1209H302M264 1239H302M264 1269H302M264 1299H302"/>
<path d="M327 1030H365V1329H327ZM327 1060H365M327 1090H365M327 1120H365M327 1150H365M327 1179H365M327 1209H365M327 1239H365M327 1269H365M327 1299H365"/>
<path d="M390 1030H428V1329H390ZM390 1060H428M390 1090H428M390 1120H428M390 1150H428M390 1179H428M390 1209H428M390 1239H428M390 1269H428M390 1299H428"/>
<path d="M453 1030H491V1329H453ZM453 1060H491M453 1090H491M453 1120H491M453 1150H491M453 1179H491M453 1209H491M453 1239H491M453 1269H491M453 1299H491"/>
</g>
<g fill="#ff3c00">
<rect x="258" y="1121" width="50" height="2.5"/><rect x="258" y="1127.5" width="50" height="2.5"/><rect x="264" y="1121" width="38" height="9"/>
<rect x="322" y="1214" width="49" height="3.5"/>
<rect x="384" y="1214" width="50" height="3.5"/>
<rect x="447" y="1214" width="50" height="2.5"/><rect x="447" y="1222" width="50" height="2.5"/><rect x="453" y="1214" width="38" height="10"/>
</g>
<g font-size="25" class="k" text-anchor="end">
<text x="256" y="1042" class="k">18</text><text x="256" y="1072" class="k">17</text><text x="256" y="1102" class="k">16</text>
<text x="256" y="1132" class="k">15</text><text x="256" y="1162" class="k">14</text><text x="256" y="1192" class="k">13</text>
<text x="256" y="1222" class="k">12</text><text x="256" y="1252" class="k">11</text><text x="256" y="1282" class="k">10</text>
<text x="256" y="1311" class="k">9</text><text x="256" y="1342" class="k">8</text>
</g>
<g font-size="25">
<text x="500" y="1042">18</text><text x="500" y="1072">17</text><text x="500" y="1102">16</text>
<text x="500" y="1132">15</text><text x="500" y="1162">14</text><text x="500" y="1192">13</text>
<text x="500" y="1222">12</text><text x="500" y="1252">11</text><text x="500" y="1282">10</text>
<text x="506" y="1311">9</text><text x="506" y="1342">8</text>
</g>

<!-- radar labels -->
<text x="1002" y="1393" font-size="32" textLength="57">cvw</text>
<text x="1078" y="1393" font-size="32" textLength="51">cve</text>
<text x="1660" y="1397" font-size="32" textLength="51">fhw</text>
<text x="1730" y="1397" font-size="32" textLength="46">fhe</text>
<text x="1078" y="1421" font-size="32" style="fill:#ff00ff">b20</text>
<text x="1664" y="1424" font-size="32" style="fill:#ff00ff">b13</text>
</svg>
</body></html>
